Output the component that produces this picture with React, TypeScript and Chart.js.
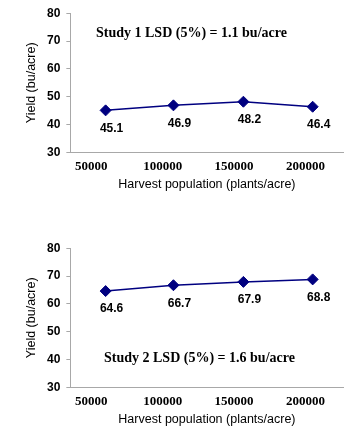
import React, { useEffect, useRef } from "react";
import { Chart, registerables } from "chart.js";

Chart.register(...registerables);

const xValues1 = [60000, 107500, 156500, 205000];
const yValues1 = [45.1, 46.9, 48.2, 46.4];
const xValues2 = [60000, 107500, 156500, 205000];
const yValues2 = [64.6, 66.7, 67.9, 68.8];
const xTicks = [50000, 100000, 150000, 200000];
const yTicks = [30, 40, 50, 60, 70, 80];
const note1 = "Study 1 LSD (5%) = 1.1 bu/acre";
const note2 = "Study 2 LSD (5%) = 1.6 bu/acre";
const xTitle = "Harvest population (plants/acre)";
const yTitle = "Yield (bu/acre)";

const NAVY = "#000080";
const AXIS = "#a8a8a8";

const labelPlugin = {
  id: "pointLabels",
  afterDatasetsDraw(chart: any) {
    const ctx = chart.ctx;
    const meta = chart.getDatasetMeta(0);
    const data = chart.data.datasets[0].data;
    ctx.save();
    ctx.font = "bold 12px 'Liberation Sans', Arial, sans-serif";
    ctx.fillStyle = "#000";
    ctx.textAlign = "center";
    ctx.textBaseline = "middle";
    meta.data.forEach((pt: any, i: number) => {
      ctx.fillText(data[i].y.toFixed(1), pt.x + 6, pt.y + 18);
    });
    ctx.restore();
  },
};

function YieldChart({ xs, ys, note, noteLeft, noteTop }: any) {
  const ref = useRef<HTMLCanvasElement>(null);
  useEffect(() => {
    const chart = new Chart(ref.current as HTMLCanvasElement, {
      type: "line",
      data: {
        datasets: [
          {
            data: xs.map((x: number, i: number) => ({ x, y: ys[i] })),
            borderColor: NAVY,
            backgroundColor: NAVY,
            borderWidth: 1.5,
            pointStyle: "rectRot",
            pointRadius: 5.5,
            pointBorderWidth: 1,
            pointBorderColor: NAVY,
            pointBackgroundColor: NAVY,
            tension: 0,
          },
        ],
      },
      options: {
        animation: false,
        responsive: false,
        maintainAspectRatio: false,
        layout: { padding: { top: 11, right: 2.5, bottom: 4, left: 18 } },
        plugins: { legend: { display: false }, tooltip: { enabled: false } },
        scales: {
          x: {
            type: "linear",
            min: 35300,
            max: 226600,
            afterBuildTicks: (s: any) => {
              s.ticks = xTicks.map((v) => ({ value: v }));
            },
            grid: { drawOnChartArea: false, drawTicks: false },
            border: { display: true, color: AXIS, width: 1 },
            ticks: {
              padding: 6,
              color: "#000",
              font: { family: "'Liberation Serif', 'Times New Roman', serif", size: 13, weight: "bold" },
              callback: (v: any) => String(v),
              maxRotation: 0,
              autoSkip: false,
            },
            title: {
              display: true,
              text: xTitle,
              color: "#000",
              font: { family: "'Liberation Sans', Arial, sans-serif", size: 12.5 },
              padding: { top: -3, bottom: 4 },
            },
          },
          y: {
            type: "linear",
            min: 30,
            max: 80,
            afterBuildTicks: (s: any) => {
              s.ticks = yTicks.map((v) => ({ value: v }));
            },
            grid: { drawOnChartArea: false, drawTicks: true, tickLength: 4, color: AXIS },
            border: { display: true, color: AXIS, width: 1 },
            ticks: {
              padding: 6,
              color: "#000",
              font: { family: "'Liberation Sans', Arial, sans-serif", size: 12, weight: "bold" },
            },
            title: {
              display: true,
              text: yTitle,
              color: "#000",
              font: { family: "'Liberation Sans', Arial, sans-serif", size: 12.5 },
              padding: { top: 6, bottom: 2 },
            },
          },
        },
      },
      plugins: [labelPlugin],
    } as any);
    return () => chart.destroy();
  }, []);
  return (
    <div style={{ position: "relative", width: 350, height: 200 }}>
      <canvas ref={ref} width={350} height={200} style={{ display: "block" }} />
      <div
        style={{
          position: "absolute",
          left: noteLeft,
          top: noteTop,
          font: "bold 14px 'Liberation Serif', 'Times New Roman', serif",
          color: "#000",
          whiteSpace: "nowrap",
          lineHeight: "16px",
        }}
      >
        {note}
      </div>
    </div>
  );
}

export default function App() {
  return (
    <div
      style={{
        position: "fixed",
        left: 0,
        top: 0,
        width: 345,
        height: 433,
        background: "#fff",
        overflow: "hidden",
      }}
    >
      <div style={{ position: "absolute", left: 0, top: 0 }}>
        <YieldChart xs={xValues1} ys={yValues1} note={note1} noteLeft={96} noteTop={25} />
      </div>
      <div style={{ position: "absolute", left: 0, top: 235 }}>
        <YieldChart xs={xValues2} ys={yValues2} note={note2} noteLeft={104} noteTop={115} />
      </div>
    </div>
  );
}
